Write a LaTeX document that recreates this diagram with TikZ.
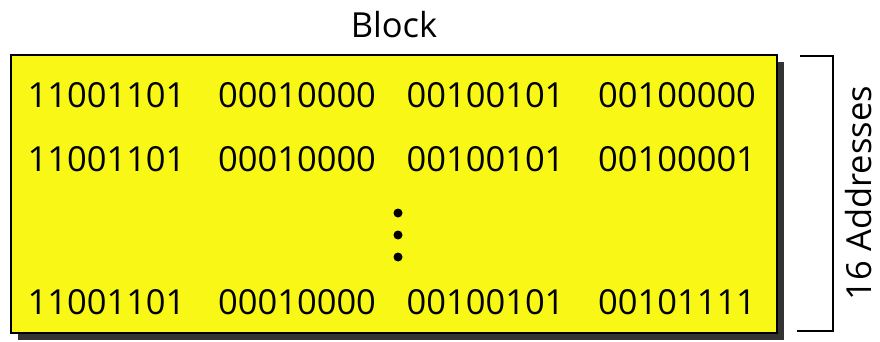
\documentclass[tikz,border=0pt]{standalone}
\usepackage{fontspec}
\setmainfont{Open Sans}
\usetikzlibrary{positioning,shadows}
\definecolor{blockyellow}{RGB}{248,247,22}
\definecolor{shadowgray}{RGB}{51,51,51}
\tikzset{
  x=1pt, y=-1pt,
  font=\fontsize{34.5}{40}\selectfont,
  blockbox/.style={draw=black, line width=2.5pt, fill=blockyellow, inner sep=0pt,
    minimum width=766pt, minimum height=278pt,
    drop shadow={shadow xshift=7pt, shadow yshift=-7pt, fill=shadowgray, opacity=1}},
  addr/.style={inner sep=0pt},
  dotmark/.style={circle, fill=black, inner sep=0pt, minimum size=9pt},
  brace/.style={line width=2.5pt},
}

\begin{document}
\begin{tikzpicture}
  \useasboundingbox (0,0) rectangle (880,342);

  \node[blockbox] (blk) at (394,194) {};
  \node[addr] (title) at (394,25) {Block};

  % first address
  \node[addr] (a11) at (106.5,95.5) {11001101};
  \node[addr] (a12) at (297,95.5) {00010000};
  \node[addr] (a13) at (485.5,95.5) {00100101};
  \node[addr] (a14) at (677,95.5) {00100000};
  % second address
  \node[addr] (a21) at (106.5,159.5) {11001101};
  \node[addr] (a22) at (297,159.5) {00010000};
  \node[addr] (a23) at (485.5,159.5) {00100101};
  \node[addr] (a24) at (677,159.5) {00100001};
  % last address
  \node[addr] (a31) at (106.5,302) {11001101};
  \node[addr] (a32) at (297,302) {00010000};
  \node[addr] (a33) at (485.5,302) {00100101};
  \node[addr] (a34) at (677,302) {00101111};

  \node[dotmark] (d1) at (398,213) {};
  \node[dotmark] (d2) at (398,235) {};
  \node[dotmark] (d3) at (398,257) {};

  % bracket
  \coordinate (bt) at (800,56);
  \coordinate (bb) at (797,331);
  \draw[brace] (bt) -- (833,56) -- (833,331) -- (bb);
  \node[addr, rotate=90] (count) at (859,193) {16 Addresses};
\end{tikzpicture}
\end{document}
